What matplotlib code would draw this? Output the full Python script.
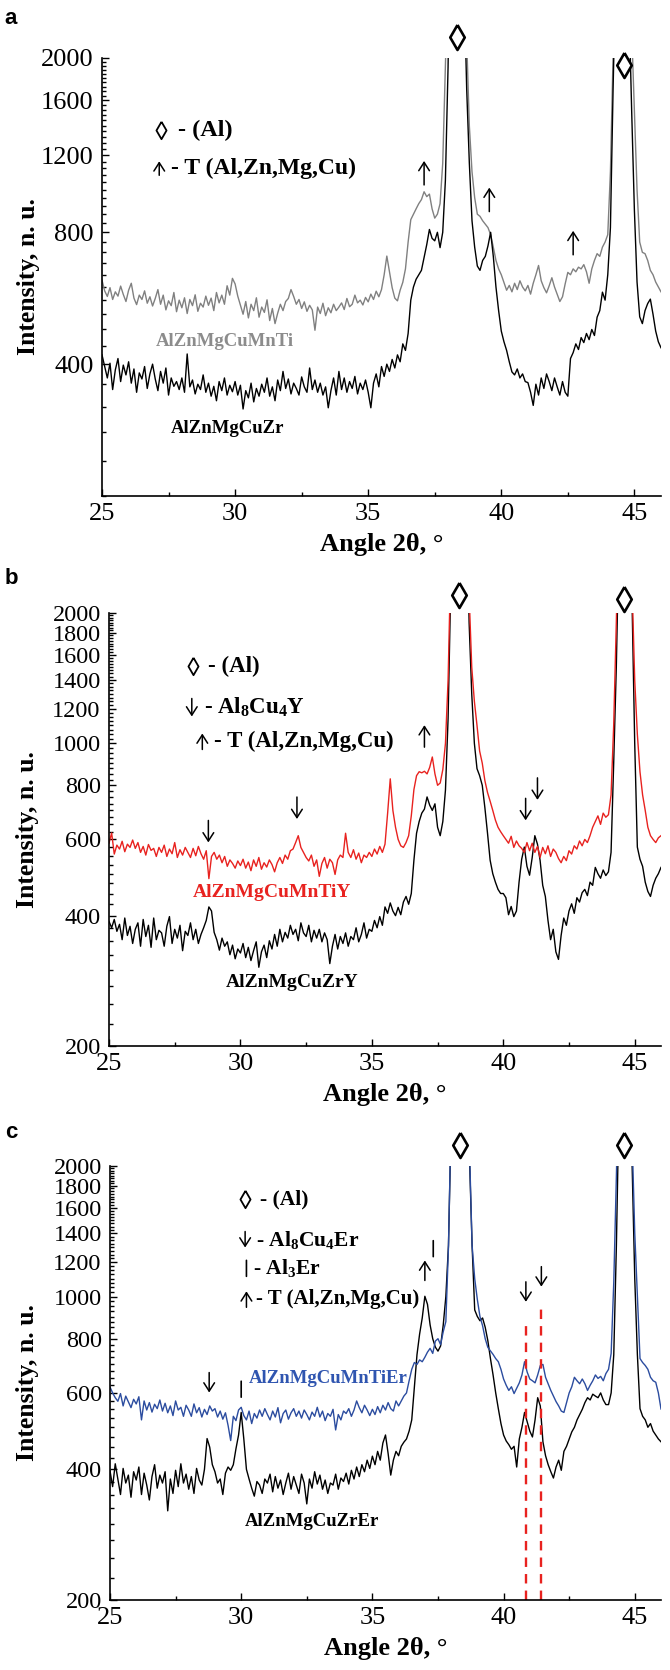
import numpy as np
import matplotlib
matplotlib.use('Agg')
import matplotlib.pyplot as plt
from matplotlib.ticker import FixedLocator, FuncFormatter, NullFormatter
from matplotlib.transforms import offset_copy

plt.rcParams['font.family'] = ['Liberation Serif', 'DejaVu Serif']
plt.rcParams['mathtext.default'] = 'regular'

# ---Scan grid, 2theta [deg], step 0.1
two_theta = np.round(np.arange(25.0, 46.05, 0.1), 1)

# ---Panel a: AlZnMgCuMnTi (grey) and AlZnMgCuZr (black)
a_mnti = [
    622, 588, 571, 598, 562, 585, 572, 603, 577, 556,
    590, 612, 566, 547, 575, 562, 588, 551, 570, 543,
    565, 592, 548, 575, 532, 558, 544, 583, 527, 560,
    538, 567, 522, 562, 544, 576, 528, 551, 540, 572,
    545, 566, 530, 583, 552, 575, 548, 604, 575, 628,
    610, 572, 545, 520, 556, 510, 548, 530, 567, 512,
    540, 525, 561, 503, 536, 495, 523, 548, 530, 556,
    565, 592, 571, 548, 562, 536, 555, 528, 545, 532,
    478, 540, 522, 551, 516, 538, 524, 548, 530, 540,
    552, 533, 565, 541, 548, 575, 552, 560, 546, 568,
    555, 578, 562, 587, 570, 592, 640, 706, 650, 598,
    566, 558, 590, 615, 660, 760, 855, 880, 905, 930,
    950, 990, 965, 978, 905, 862, 880, 930, 1150, 1900,
    3200, 6000, 11000, 15000, 13000, 8000, 4500, 2200, 1400, 1100,
    960, 880, 870, 850, 835, 820, 790, 740, 690, 660,
    640, 615, 590, 605, 585, 612, 592, 620, 600, 588,
    605, 578, 612, 640, 672, 620, 598, 582, 604, 630,
    600, 578, 556, 570, 610, 648, 640, 660, 650, 666,
    660, 675, 650, 612, 660, 690, 715, 705, 740, 760,
    790, 1100, 2000, 3800, 6500, 8000, 7500, 5500, 3500, 2300,
    1500, 1000, 760, 720, 715, 690, 655, 640, 616, 600,
    585]
a_zr = [
    420, 395, 372, 402, 350, 388, 412, 365, 398, 378,
    405, 362, 390, 345, 382, 370, 395, 352, 380, 400,
    370, 348, 385, 362, 392, 340, 372, 356, 365, 350,
    372, 345, 422, 355, 368, 342, 360, 350, 378, 345,
    362, 338, 356, 330, 365, 348, 372, 340, 358, 346,
    365, 340, 358, 316, 348, 335, 362, 328, 352, 338,
    360, 345, 372, 338, 355, 330, 368, 348, 385, 352,
    370, 342, 362, 352, 340, 374, 355, 345, 392, 350,
    368, 345, 362, 340, 355, 318, 348, 372, 340, 385,
    350, 372, 345, 365, 352, 375, 342, 362, 350, 368,
    345, 318, 362, 380, 355, 395, 375, 400, 385, 410,
    392, 420, 405, 445, 430, 470, 560, 600, 625, 640,
    655, 700, 750, 812, 775, 765, 800, 738, 800, 1050,
    1900, 4500, 9000, 13000, 11000, 7000, 3000, 1700, 1150, 850,
    740, 670, 655, 690, 705, 745, 800, 705, 600, 530,
    476, 450, 430, 405, 384, 378, 390, 372, 380, 365,
    363, 345, 322, 360, 340, 372, 352, 380, 365, 348,
    372, 355, 340, 365, 345, 338, 412, 425, 445, 432,
    460, 448, 470, 455, 480, 465, 512, 530, 584, 560,
    640, 820, 1700, 3200, 6000, 7500, 7000, 4800, 2600, 1500,
    900, 616, 513, 495, 530, 550, 563, 520, 476, 450,
    436]

# ---Panel b: AlZnMgCuMnTiY (red) and AlZnMgCuZrY (black)
b_mntiy = [
    588, 621, 555, 582, 570, 594, 562, 585, 575, 598,
    572, 590, 560, 578, 552, 584, 566, 572, 548, 575,
    560, 582, 548, 570, 556, 590, 545, 568, 552, 575,
    560, 545, 572, 550, 578, 556, 540, 565, 487, 548,
    560, 540, 552, 530, 548, 520, 538, 528, 515, 535,
    522, 540, 515, 532, 508, 538, 520, 545, 512, 530,
    518, 538, 525, 505, 530, 545, 528, 552, 540, 565,
    570, 590, 612, 575, 560, 545, 535, 552, 520, 538,
    493, 528, 545, 515, 540, 530, 498, 538, 552, 545,
    620, 560, 545, 568, 540, 558, 530, 552, 545, 560,
    548, 570, 555, 578, 560, 585, 690, 828, 700, 640,
    600, 580, 575, 590, 612, 680, 782, 842, 860, 855,
    862, 850, 880, 930, 850, 800, 810, 870, 1000, 1400,
    2600, 6000, 11000, 14000, 12000, 8000, 5000, 2200, 1500, 1250,
    1100, 960, 900, 820, 770, 735, 700, 665, 640, 625,
    612, 600, 588, 610, 575, 595, 580, 572, 560, 590,
    565, 588, 560, 578, 545, 575, 556, 580, 548, 570,
    560, 542, 530, 548, 536, 565, 555, 580, 570, 595,
    580, 600, 590, 612, 640, 660, 680, 650, 690, 675,
    684, 760, 1100, 1900, 3500, 6500, 8500, 6500, 4500, 2300,
    1400, 1050, 860, 760, 700, 640, 612, 600, 590, 605,
    612]
b_zry = [
    388, 375, 392, 368, 382, 352, 395, 360, 378, 345,
    372, 385, 340, 392, 358, 380, 338, 395, 352, 370,
    365, 340, 378, 398, 345, 372, 355, 380, 332, 368,
    360, 385, 352, 372, 345, 362, 375, 390, 419, 410,
    366, 352, 333, 355, 340, 348, 325, 342, 318, 335,
    328, 345, 320, 338, 315, 332, 348, 304, 330, 342,
    320, 350, 335, 362, 340, 372, 348, 366, 355, 380,
    362, 372, 350, 385, 365, 358, 380, 348, 370, 355,
    372, 348, 365, 352, 310, 340, 362, 335, 358, 345,
    365, 340, 358, 352, 375, 348, 362, 385, 355, 372,
    368, 390, 375, 398, 380, 419, 405, 428, 410, 400,
    418, 402, 430, 443, 425, 450, 537, 620, 660, 690,
    705, 752, 720, 700, 725, 640, 612, 660, 780, 1140,
    2300, 5500, 10000, 13000, 11000, 7000, 4000, 1900, 1300, 1000,
    874, 842, 800, 710, 620, 537, 500, 478, 460, 450,
    450, 440, 402, 420, 398, 410, 478, 540, 576, 520,
    496, 545, 612, 585, 537, 470, 443, 390, 352, 372,
    330, 317, 360, 395, 380, 410, 426, 405, 440, 430,
    452, 460, 445, 478, 470, 517, 500, 488, 510, 495,
    505, 560, 900, 1500, 3000, 6000, 8000, 7500, 4000, 2100,
    1000, 576, 540, 520, 478, 455, 443, 470, 488, 500,
    517]

# ---Panel c: AlZnMgCuMnTiEr (blue) and AlZnMgCuZrEr (black)
c_mntier = [
    619, 600, 585, 574, 598, 560, 590, 572, 555, 580,
    566, 588, 520, 575, 548, 570, 542, 565, 552, 578,
    545, 568, 540, 560, 532, 575, 548, 556, 530, 562,
    548, 530, 566, 540, 555, 528, 550, 535, 560, 545,
    552, 528, 545, 522, 540, 505, 466, 530, 518, 548,
    556, 532, 520, 545, 510, 538, 525, 548, 530, 552,
    535, 520, 545, 528, 555, 512, 538, 548, 522, 540,
    552, 530, 545, 525, 548, 535, 520, 542, 530, 556,
    528, 545, 518, 538, 530, 550, 493, 535, 520, 545,
    538, 552, 530, 548, 575, 555, 540, 562, 548, 532,
    550, 535, 558, 540, 562, 548, 570, 552, 545, 575,
    560, 575, 590, 600, 640, 680, 705, 698, 715, 708,
    725, 745, 760, 740, 790, 800, 775, 830, 876, 1300,
    2600, 6000, 11000, 14000, 12000, 8000, 4500, 2200, 1313, 1100,
    985, 900, 857, 800, 764, 750, 736, 720, 708, 680,
    646, 625, 608, 620, 598, 615, 633, 660, 708, 670,
    646, 640, 633, 660, 694, 698, 652, 630, 608, 590,
    573, 560, 545, 541, 570, 600, 620, 652, 640, 630,
    646, 630, 608, 625, 640, 660, 648, 655, 640, 665,
    680, 740, 1080, 1900, 3500, 6500, 8000, 7000, 4800, 2300,
    1400, 1000, 720, 705, 694, 680, 652, 640, 635, 600,
    551]
c_zrer = [
    397, 365, 412, 380, 350, 402, 372, 388, 345, 395,
    378, 405, 350, 392, 368, 340, 385, 410, 362, 388,
    372, 395, 321, 380, 352, 398, 365, 412, 372, 390,
    360, 385, 352, 402, 378, 368, 400, 471, 450, 410,
    395, 372, 380, 350, 392, 405, 398, 410, 446, 480,
    541, 470, 400, 380, 362, 347, 375, 368, 352, 380,
    372, 390, 355, 385, 362, 378, 350, 372, 392, 360,
    385, 368, 352, 390, 372, 333, 380, 362, 395, 370,
    388, 360, 378, 352, 372, 368, 390, 360, 382, 375,
    392, 370, 398, 380, 405, 385, 410, 395, 420, 402,
    429, 410, 440, 420, 460, 480, 435, 388, 420, 440,
    430, 452, 462, 470, 490, 520, 620, 735, 820, 893,
    1002, 960, 861, 800, 765, 749, 770, 860, 1000, 1313,
    2500, 5500, 10000, 13000, 11000, 7000, 4000, 2100, 1313, 932,
    900, 880, 893, 850, 792, 720, 660, 600, 552, 510,
    480, 465, 456, 445, 452, 405, 470, 500, 541, 515,
    490, 475, 520, 585, 560, 463, 430, 410, 395, 382,
    405, 420, 398, 440, 452, 470, 488, 500, 520, 535,
    550, 570, 585, 578, 596, 590, 585, 600, 578, 564,
    564, 600, 735, 1313, 2800, 6000, 8000, 7000, 4500, 2000,
    1100, 735, 552, 530, 520, 500, 510, 490, 480, 470,
    463]

# ---Phase markers: (2theta, intensity at the centre of the symbol)
a_al_peaks = [(38.33, 2230), (44.6, 1930)]
a_t_peaks = [(37.1, 1093), (39.55, 950), (42.7, 757)]
b_al_peaks = [(38.33, 2200), (44.6, 2160)]
b_y_peaks = [(28.78, 626), (32.15, 709), (40.85, 704), (41.3, 785)]
b_t_peaks = [(37.0, 1039)]
c_al_peaks = [(38.33, 2230), (44.6, 2230)]
c_er_peaks = [(28.78, 634), (40.85, 1026), (41.44, 1112)]
c_al3er_peaks = [(30.0, 612), (37.32, 1290)]
c_t_peaks = [(37.0, 1149)]
c_dash_x = [40.85, 41.44]
c_dash_top = [880, 937]

a_yticks = [400, 800, 1200, 1600, 2000]
bc_yticks = [200, 400, 600, 800, 1000, 1200, 1400, 1600, 1800, 2000]
x_ticks = [25, 30, 35, 40, 45]
x_minor = [27.5, 32.5, 37.5, 42.5]

for arr in (a_mnti, a_zr, b_mntiy, b_zry, c_mntier, c_zrer):
    assert len(arr) == len(two_theta)

lozenge = [(0, 1), (0.58, 0), (0, -1), (-0.58, 0), (0, 1)]


def style_axes(ax, yticks, minor_step, ysize):
    ax.set_yscale('log')
    ax.set_xlim(25, 46)
    ax.set_ylim(200, 2000)
    ax.spines[['top', 'right']].set_visible(False)
    ax.spines[['left', 'bottom']].set_linewidth(1.2)
    ax.yaxis.set_major_locator(FixedLocator(yticks))
    ax.yaxis.set_major_formatter(FuncFormatter(lambda v, p: f'{v:.0f}'))
    minor = [v for v in range(200, 2001, minor_step) if v not in yticks]
    ax.yaxis.set_minor_locator(FixedLocator(minor))
    ax.yaxis.set_minor_formatter(NullFormatter())
    ax.xaxis.set_major_locator(FixedLocator(x_ticks))
    ax.xaxis.set_minor_locator(FixedLocator(x_minor))
    ax.tick_params(which='both', direction='in', width=1.0)
    ax.tick_params(which='major', length=5)
    ax.tick_params(which='minor', length=3)
    ax.tick_params(axis='y', labelsize=ysize, pad=6)
    ax.tick_params(axis='x', labelsize=19, pad=5)
    ax.set_xlabel('Angle 2θ, °', fontsize=19, fontweight='bold', labelpad=6)


def ylabel(ax, xpos):
    ax.text(xpos, 0.5, 'Intensity, n. u.', transform=ax.transAxes, rotation=90,
            ha='center', va='center', fontsize=18.5, fontweight='bold')


def arrow(ax, x, y, up=True, half=11, color='black'):
    # thin open-headed arrow centred on (x, y), length 2*half pixels
    sign = 1 if up else -1
    head = offset_copy(ax.transData, fig=ax.figure, x=0, y=sign * half, units='dots')
    tail = offset_copy(ax.transData, fig=ax.figure, x=0, y=-sign * half, units='dots')
    ax.annotate('', xy=(x, y), xycoords=head, xytext=(x, y), textcoords=tail,
                annotation_clip=False,
                arrowprops=dict(arrowstyle='->,head_length=0.5,head_width=0.32',
                                lw=1.1, color=color, shrinkA=0, shrinkB=0,
                                mutation_scale=12))


def bar(ax, x, y, half=8):
    lo = offset_copy(ax.transData, fig=ax.figure, x=0, y=-half, units='dots')
    hi = offset_copy(ax.transData, fig=ax.figure, x=0, y=half, units='dots')
    ax.annotate('', xy=(x, y), xycoords=hi, xytext=(x, y), textcoords=lo,
                annotation_clip=False,
                arrowprops=dict(arrowstyle='-', lw=1.2, color='black',
                                shrinkA=0, shrinkB=0))


def diamonds(ax, peaks, ms=18, mew=1.9):
    xs, ys = zip(*peaks)
    ax.plot(xs, ys, ls='none', marker=lozenge, ms=ms, mfc='white', mec='black',
            mew=mew, clip_on=False, zorder=6)


def key(ax, x_sym, x_txt, y, sym, text, size, half=8):
    if sym == 'diamond':
        diamonds(ax, [(x_sym, y)], ms=12.5, mew=1.3)
    elif sym == 'bar':
        bar(ax, x_sym, y, half=half)
    else:
        arrow(ax, x_sym, y, up=(sym == 'up'), half=half)
    ax.text(x_txt, y, text, fontsize=size, fontweight='bold', va='center')


fig = plt.figure(figsize=(6.7, 16.7), dpi=100)
ax_a = fig.add_axes([102 / 670, 1 - 496 / 1670, 559 / 670, 438 / 1670])
ax_b = fig.add_axes([109 / 670, 1 - 1046 / 1670, 552 / 670, 433 / 1670])
ax_c = fig.add_axes([110 / 670, 1 - 1600 / 1670, 551 / 670, 434 / 1670])

# ---Panel a
ax_a.plot(two_theta, a_mnti, color='#808080', lw=1.0)
ax_a.plot(two_theta, a_zr, color='black', lw=1.0)
style_axes(ax_a, a_yticks, 40, 19)
ylabel(ax_a, -0.132)
diamonds(ax_a, a_al_peaks)
for x, y in a_t_peaks:
    arrow(ax_a, x, y, up=True, half=12)
key(ax_a, 27.2, 27.85, 1370, 'diamond', '- (Al)', 17.5)
key(ax_a, 27.15, 27.6, 1120, 'up', '- T (Al,Zn,Mg,Cu)', 17, half=7)
ax_a.text(29.6, 451, 'AlZnMgCuMnTi', color='#8c8c8c', fontsize=13.5,
          fontweight='bold', ha='center', va='center')
ax_a.text(29.7, 285, 'AlZnMgCuZr', color='black', fontsize=13.5,
          fontweight='bold', ha='center', va='center')

# ---Panel b
ax_b.plot(two_theta, b_zry, color='black', lw=1.0)
ax_b.plot(two_theta, b_mntiy, color='#e8221f', lw=1.0)
style_axes(ax_b, bc_yticks, 25, 17.5)
ylabel(ax_b, -0.147)
diamonds(ax_b, b_al_peaks)
for x, y in b_y_peaks:
    arrow(ax_b, x, y, up=False, half=11)
for x, y in b_t_peaks:
    arrow(ax_b, x, y, up=True, half=11)
key(ax_b, 28.2, 28.75, 1506, 'diamond', '- (Al)', 16.5)
key(ax_b, 28.15, 28.6, 1210, 'down', '- Al$_8$Cu$_4$Y', 16.5, half=9)
key(ax_b, 28.55, 29.0, 1010, 'up', '- T (Al,Zn,Mg,Cu)', 16.5, half=8)
ax_b.text(31.2, 452, 'AlZnMgCuMnTiY', color='#e8221f', fontsize=14,
          fontweight='bold', ha='center', va='center')
ax_b.text(31.95, 281, 'AlZnMgCuZrY', color='black', fontsize=14,
          fontweight='bold', ha='center', va='center')

# ---Panel c
ax_c.plot(two_theta, c_zrer, color='black', lw=1.0)
ax_c.plot(two_theta, c_mntier, color='#2b4c9f', lw=1.0)
ax_c.vlines(c_dash_x, 200, c_dash_top, colors='#e8221f', linestyles=(0, (4, 3)), lw=1.7)
style_axes(ax_c, bc_yticks, 25, 17.5)
ylabel(ax_c, -0.149)
diamonds(ax_c, c_al_peaks)
for x, y in c_er_peaks:
    arrow(ax_c, x, y, up=False, half=10)
for x, y in c_al3er_peaks:
    bar(ax_c, x, y, half=8)
for x, y in c_t_peaks:
    arrow(ax_c, x, y, up=True, half=10)
key(ax_c, 30.15, 30.7, 1676, 'diamond', '- (Al)', 15.5)
key(ax_c, 30.15, 30.55, 1354, 'down', '- Al$_8$Cu$_4$Er', 15.5, half=8)
key(ax_c, 30.2, 30.45, 1162, 'bar', '- Al$_3$Er', 15.5, half=8)
key(ax_c, 30.2, 30.55, 986, 'up', '- T (Al,Zn,Mg,Cu)', 15, half=8)
ax_c.text(33.33, 649, 'AlZnMgCuMnTiEr', color='#2f55b0', fontsize=13.5,
          fontweight='bold', ha='center', va='center')
ax_c.text(32.68, 303, 'AlZnMgCuZrEr', color='black', fontsize=13.5,
          fontweight='bold', ha='center', va='center')

# ---Panel letters
for letter, ypix in (('a', 19), ('b', 578), ('c', 1133)):
    fig.text(11 / 670, 1 - ypix / 1670, letter, fontsize=16, fontweight='bold',
             family='Liberation Sans', ha='center', va='center')

fig.savefig('out.png', dpi=100)
